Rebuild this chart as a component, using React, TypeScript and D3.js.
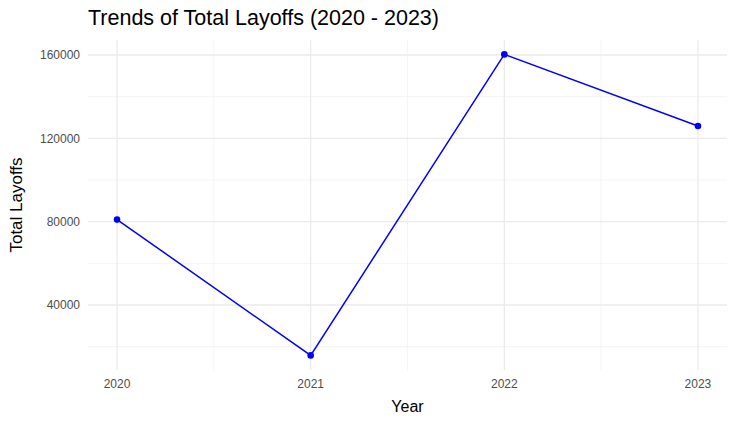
import * as d3 from "d3";

const years = [2020, 2021, 2022, 2023];
const layoffs = [81000, 15800, 160300, 125900];
const yTicks = [40000, 80000, 120000, 160000];
const yMinor = [20000, 60000, 100000, 140000];
const xMinor = [2020.5, 2021.5, 2022.5];

export default function App() {
  const width = 737;
  const height = 425;
  const margin = { top: 40, right: 10, bottom: 55, left: 88 };

  const x = d3.scaleLinear().domain([2019.85, 2023.15]).range([margin.left, width - margin.right]);
  const y = d3.scaleLinear().domain([8800, 167200]).range([height - margin.bottom, margin.top]);

  const line = d3
    .line<number>()
    .x((_, i) => x(years[i]))
    .y((d) => y(d));

  const font = "Liberation Sans, Arial, sans-serif";

  return (
    <svg width={width} height={height} style={{ position: "absolute", left: 0, top: 0, background: "#fff" }} fontFamily={font}>
      {yMinor.map((t) => (
        <line key={"ym" + t} x1={margin.left} x2={width - margin.right} y1={y(t)} y2={y(t)} stroke="#f2f2f2" strokeWidth={0.8} />
      ))}
      {xMinor.map((t) => (
        <line key={"xm" + t} y1={margin.top} y2={height - margin.bottom} x1={x(t)} x2={x(t)} stroke="#f2f2f2" strokeWidth={0.8} />
      ))}
      {yTicks.map((t) => (
        <line key={"y" + t} x1={margin.left} x2={width - margin.right} y1={y(t)} y2={y(t)} stroke="#ebebeb" strokeWidth={1.3} />
      ))}
      {years.map((t) => (
        <line key={"x" + t} y1={margin.top} y2={height - margin.bottom} x1={x(t)} x2={x(t)} stroke="#ebebeb" strokeWidth={1.3} />
      ))}
      <path d={line(layoffs) ?? ""} fill="none" stroke="#0000ff" strokeWidth={1.5} />
      {layoffs.map((v, i) => (
        <circle key={i} cx={x(years[i])} cy={y(v)} r={3.3} fill="#0000ff" />
      ))}
      {yTicks.map((t) => (
        <text key={"yl" + t} x={margin.left - 8} y={y(t)} dy="0.35em" textAnchor="end" fontSize={12} fill="#4d4d4d">
          {t}
        </text>
      ))}
      {years.map((t) => (
        <text key={"xl" + t} x={x(t)} y={height - margin.bottom + 18} textAnchor="middle" fontSize={12} fill="#4d4d4d">
          {t}
        </text>
      ))}
      <text x={(margin.left + width - margin.right) / 2} y={412} textAnchor="middle" fontSize={16} fill="#000">
        Year
      </text>
      <text transform={`translate(22,${(margin.top + height - margin.bottom) / 2}) rotate(-90)`} textAnchor="middle" fontSize={17} fill="#000">
        Total Layoffs
      </text>
      <text x={88} y={25} fontSize={21.5} fill="#000">
        Trends of Total Layoffs (2020 - 2023)
      </text>
    </svg>
  );
}
